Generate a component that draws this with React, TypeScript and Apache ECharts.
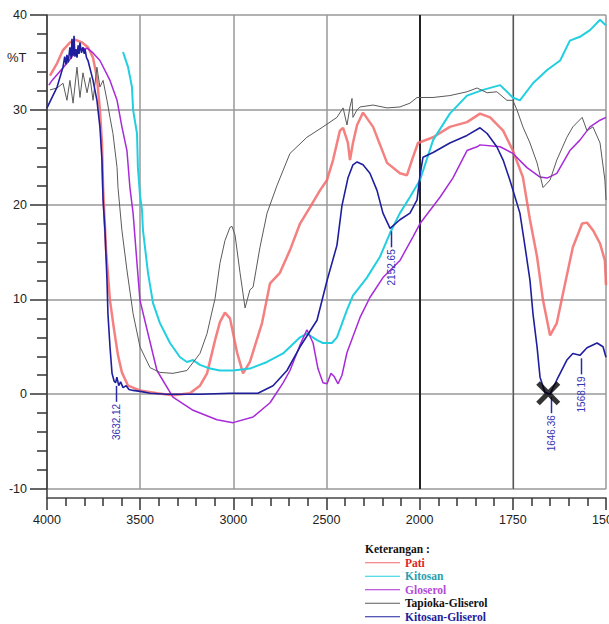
import React, { useEffect, useRef } from "react";
import * as echarts from "echarts";

// FTIR spectra, wavenumber (cm-1) vs %T
const patiWn = [3984, 3946, 3914, 3877, 3850, 3812, 3780, 3753, 3732, 3716, 3705, 3699, 3683, 3662, 3640, 3619, 3598, 3565, 3501, 3410, 3324, 3233, 3179, 3141, 3098, 3072, 3045, 3018, 2980, 2948, 2911, 2846, 2803, 2750, 2696, 2642, 2589, 2535, 2497, 2465, 2428, 2411, 2385, 2374, 2358, 2336, 2304, 2250, 2175, 2106, 2068, 2036, 2009, 1964, 1919, 1873, 1838, 1811, 1776, 1750, 1723, 1704, 1685, 1669, 1650, 1632, 1615, 1589, 1564, 1551, 1535, 1516, 1503, 1500];
const patiT = [33.6, 34.9, 36.3, 37.1, 37.4, 37.1, 36.6, 35.5, 33.4, 30.0, 26.5, 21.8, 15.2, 9.9, 6.8, 4.1, 2.3, 0.9, 0.4, 0.1, -0.1, 0.1, 0.9, 2.2, 5.7, 7.6, 8.6, 8.0, 4.4, 2.2, 3.4, 7.5, 11.7, 12.8, 15.2, 18.0, 19.7, 21.5, 22.6, 24.7, 27.8, 28.1, 26.5, 24.7, 26.5, 28.4, 29.7, 28.2, 24.4, 23.3, 23.1, 25.0, 26.5, 27.1, 28.2, 28.7, 29.6, 29.2, 27.8, 25.7, 22.9, 18.4, 14.5, 9.9, 6.2, 7.5, 10.7, 15.5, 18.0, 18.1, 17.3, 15.9, 14.1, 11.5];

const kitosanWn = [3592, 3565, 3544, 3538, 3517, 3512, 3501, 3490, 3485, 3458, 3431, 3394, 3340, 3286, 3249, 3216, 3179, 3125, 3072, 3002, 2911, 2819, 2733, 2642, 2605, 2551, 2519, 2471, 2444, 2390, 2358, 2283, 2213, 2159, 2106, 2052, 1999, 1964, 1919, 1873, 1830, 1784, 1750, 1731, 1696, 1658, 1623, 1597, 1570, 1543, 1516, 1500];
const kitosanT = [36.1, 34.5, 32.4, 30.0, 27.5, 23.9, 21.0, 19.4, 17.3, 12.8, 9.6, 7.5, 5.4, 3.9, 3.4, 3.6, 3.1, 2.7, 2.5, 2.5, 2.7, 3.4, 4.3, 6.0, 6.4, 5.7, 5.4, 5.4, 6.0, 8.9, 10.4, 12.3, 14.5, 17.0, 19.1, 20.8, 22.6, 26.8, 29.6, 31.5, 32.1, 32.6, 31.3, 31.0, 32.8, 34.2, 35.2, 37.3, 37.7, 38.4, 39.5, 38.9];

const gliserolWn = [3990, 3973, 3893, 3839, 3785, 3753, 3716, 3662, 3624, 3598, 3571, 3555, 3538, 3517, 3501, 3463, 3410, 3324, 3216, 3088, 3002, 2894, 2803, 2733, 2696, 2642, 2605, 2572, 2546, 2519, 2497, 2476, 2460, 2438, 2417, 2390, 2320, 2267, 2197, 2106, 2036, 1999, 1945, 1911, 1873, 1846, 1838, 1784, 1750, 1712, 1677, 1658, 1632, 1597, 1570, 1543, 1516, 1500];
const gliserolT = [32.6, 33.1, 34.9, 36.3, 36.5, 36.0, 35.2, 33.1, 31.0, 28.2, 25.7, 21.8, 19.1, 13.8, 9.9, 6.8, 2.5, -0.3, -1.7, -2.7, -3.0, -2.4, -0.9, 1.2, 2.5, 5.2, 6.8, 5.4, 2.7, 1.2, 1.1, 2.2, 1.9, 1.1, 2.0, 4.4, 8.1, 10.2, 12.3, 14.1, 16.6, 18.0, 20.8, 22.8, 25.7, 26.1, 26.3, 26.1, 25.4, 23.9, 22.9, 22.8, 23.3, 25.7, 26.8, 28.2, 28.9, 29.2];

const tapiokaWn = [3984, 3946, 3914, 3893, 3877, 3860, 3839, 3823, 3807, 3785, 3769, 3753, 3732, 3716, 3699, 3678, 3662, 3646, 3624, 3619, 3598, 3571, 3538, 3501, 3447, 3394, 3324, 3249, 3179, 3141, 3125, 3098, 3072, 3045, 3018, 3007, 2991, 2964, 2937, 2911, 2894, 2857, 2819, 2766, 2696, 2605, 2519, 2444, 2411, 2390, 2374, 2363, 2358, 2336, 2320, 2250, 2175, 2106, 2052, 2014, 1991, 1964, 1919, 1873, 1846, 1819, 1793, 1766, 1750, 1739, 1723, 1704, 1685, 1669, 1650, 1632, 1605, 1589, 1564, 1551, 1535, 1516, 1503, 1500];
const tapiokaT = [32.1, 32.3, 32.8, 31.0, 33.1, 30.7, 34.5, 31.3, 33.9, 31.8, 33.4, 31.0, 34.5, 32.4, 33.1, 31.0, 29.2, 27.5, 23.9, 21.8, 17.3, 13.1, 8.5, 5.0, 2.8, 2.3, 2.2, 2.5, 4.3, 6.4, 7.8, 10.1, 13.8, 16.2, 17.6, 17.7, 16.8, 12.8, 9.1, 11.0, 11.3, 15.5, 19.1, 22.0, 25.4, 27.1, 28.2, 29.2, 30.2, 28.4, 30.3, 31.2, 29.2, 30.0, 30.3, 30.5, 30.2, 30.3, 30.7, 31.3, 31.3, 31.3, 31.5, 31.9, 32.3, 31.8, 31.9, 31.0, 31.0, 30.0, 28.2, 26.5, 24.4, 21.8, 22.6, 24.7, 27.1, 28.2, 29.2, 27.8, 28.2, 26.5, 22.6, 20.5];

const kitosanGliserolWn = [4000, 3946, 3914, 3905, 3898, 3893, 3886, 3877, 3870, 3866, 3860, 3855, 3850, 3845, 3839, 3833, 3828, 3823, 3815, 3807, 3800, 3796, 3788, 3780, 3753, 3732, 3716, 3705, 3699, 3689, 3678, 3673, 3662, 3651, 3640, 3632, 3625, 3615, 3605, 3592, 3575, 3560, 3538, 3500, 3447, 3356, 3179, 3018, 2868, 2787, 2712, 2642, 2551, 2497, 2444, 2417, 2385, 2358, 2336, 2304, 2267, 2229, 2197, 2159, 2106, 2052, 2014, 1999, 1991, 1964, 1919, 1873, 1838, 1819, 1793, 1776, 1758, 1731, 1717, 1704, 1696, 1685, 1677, 1664, 1650, 1632, 1605, 1589, 1570, 1551, 1524, 1508, 1500];
const kitosanGliserolT = [30.2, 32.4, 34.5, 35.6, 34.8, 35.8, 35.0, 36.6, 35.4, 37.5, 35.7, 37.8, 35.6, 36.4, 35.5, 36.8, 35.9, 37.1, 36.0, 36.6, 35.9, 36.4, 35.5, 35.2, 33.1, 31.0, 28.2, 24.7, 20.5, 17.3, 12.0, 8.5, 5.0, 2.2, 1.4, 1.2, 1.8, 0.9, 1.3, 0.7, 0.9, 0.5, 0.4, 0.3, 0.1, 0.0, 0.0, 0.1, 0.1, 0.9, 2.5, 5.0, 7.8, 12.0, 15.7, 19.9, 22.8, 24.2, 24.5, 24.2, 23.3, 21.5, 19.1, 17.5, 18.4, 19.1, 20.5, 23.1, 25.0, 25.5, 26.5, 27.3, 28.1, 27.5, 26.1, 24.7, 22.6, 19.1, 15.5, 12.0, 8.5, 5.0, 1.8, 0.2, 0.0, 1.5, 3.6, 4.3, 4.1, 4.9, 5.4, 5.0, 3.9];

const seriesNames = ["Pati", "Kitosan", "Gloserol", "Tapioka-Gliserol", "Kitosan-Gliserol"];
const lineColors = ["#f26a6a", "#22cfe0", "#a82ad8", "#5a5a5a", "#1f1f9e"];
const legendTextColors = ["#e01f26", "#2a9eb0", "#b24ad8", "#111111", "#1c1c9c"];

// Peak picks on the Kitosan-Gliserol spectrum
const peakWn = [3632.12, 2152.65, 1646.36, 1568.19];
const peakT = [1.2, 17.5, 0.0, 4.1];

// Cross mark position
const crossWn = [1655];
const crossT = [0.1];

const xTickWn = [4000, 3500, 3000, 2500, 2000, 1750, 1500];

// Axis is linear in "position": 1x scale above 2000 cm-1, 2x scale below.
const toPos = (wn: number) => (wn >= 2000 ? 4000 - wn : 2000 + (2000 - wn) * 2);
const fromPos = (p: number) => (p <= 2000 ? 4000 - p : 2000 - (p - 2000) / 2);

const pairs = (wn: number[], t: number[]) => wn.map((w, i) => [toPos(w), t[i]]);

const sans = '"Liberation Sans", Arial, sans-serif';
const serif = '"Liberation Serif", "Times New Roman", serif';

export default function App() {
  const ref = useRef<HTMLDivElement>(null);

  useEffect(() => {
    if (!ref.current) return;
    const chart = echarts.init(ref.current, undefined, { renderer: "svg" });

    const spectra = [
      { wn: patiWn, t: patiT, width: 2.5, opacity: 0.85 },
      { wn: kitosanWn, t: kitosanT, width: 2, opacity: 1 },
      { wn: gliserolWn, t: gliserolT, width: 1.5, opacity: 1 },
      { wn: tapiokaWn, t: tapiokaT, width: 1, opacity: 1 },
      { wn: kitosanGliserolWn, t: kitosanGliserolT, width: 1.6, opacity: 1 },
    ];

    const lineSeries: any[] = spectra.map((s, i) => ({
      name: seriesNames[i],
      type: "line",
      data: pairs(s.wn, s.t),
      symbol: "none",
      smooth: false,
      lineStyle: { color: lineColors[i], width: s.width, opacity: s.opacity },
      itemStyle: { color: lineColors[i] },
      z: 3 + i,
    }));

    // darker reference lines at the scale break and at 1750
    lineSeries[0].markLine = {
      silent: true,
      symbol: "none",
      label: { show: false },
      data: [
        { xAxis: toPos(2000), lineStyle: { color: "#222", width: 2, type: "solid" } },
        { xAxis: toPos(1750), lineStyle: { color: "#555", width: 1.2, type: "solid" } },
      ],
      z: 1,
    };

    const peakSeries = {
      type: "custom",
      name: "peaks",
      data: peakWn.map((w, i) => [toPos(w), peakT[i]]),
      z: 10,
      silent: true,
      clip: false,
      renderItem: (params: any, api: any) => {
        const pt = api.coord([api.value(0), api.value(1)]);
        const x = Math.round(pt[0]) + 0.5;
        const y0 = pt[1] + 3;
        const y1 = pt[1] + 19;
        return {
          type: "group",
          children: [
            {
              type: "line",
              shape: { x1: x, y1: y0, x2: x, y2: y1 },
              style: { stroke: "#2a2aa8", lineWidth: 1.5 },
            },
            {
              type: "text",
              x: x,
              y: y1 + 2,
              rotation: Math.PI / 2,
              style: {
                text: peakWn[params.dataIndex].toFixed(2),
                fill: "#3434b4",
                font: `10px ${sans}`,
                align: "right",
                verticalAlign: "middle",
              },
            },
          ],
        };
      },
    };

    const crossSeries = {
      type: "scatter",
      name: "cross",
      data: crossWn.map((w, i) => [toPos(w), crossT[i]]),
      symbol: "path://M3,0L10,7L17,0L20,3L13,10L20,17L17,20L10,13L3,20L0,17L7,10L0,3Z",
      symbolSize: 24,
      itemStyle: { color: "#000" },
      silent: true,
      z: 20,
    };

    chart.setOption({
      animation: false,
      backgroundColor: "#ffffff",
      grid: { left: 47, right: 3, top: 15, bottom: 135, containLabel: false, outerBoundsMode: "none" },
      xAxis: {
        type: "value",
        min: 0,
        max: 3000,
        interval: 500,
        offset: 9,
        axisLine: { show: true, onZero: false, lineStyle: { color: "#444", width: 1.5 } },
        axisTick: { show: true, length: 12, lineStyle: { color: "#333", width: 1.5 } },
        minorTick: { show: true, splitNumber: 5, length: 8, lineStyle: { color: "#333", width: 1.5 } },
        axisLabel: {
          margin: 15,
          color: "#222",
          fontSize: 12.5,
          fontFamily: sans,
          hideOverlap: false,
          formatter: (v: number) => {
            const w = Math.round(fromPos(v));
            return xTickWn.includes(w) ? String(w) : "";
          },
        },
        splitLine: { show: true, lineStyle: { color: "#999", width: 1.5 } },
      },
      yAxis: {
        type: "value",
        min: -10,
        max: 40,
        interval: 10,
        axisLine: { show: true, onZero: false, lineStyle: { color: "#333", width: 1.5 } },
        axisTick: { show: true, length: 17, lineStyle: { color: "#333", width: 1.5 } },
        minorTick: { show: true, splitNumber: 5, length: 10, lineStyle: { color: "#333", width: 1.5 } },
        axisLabel: { margin: 20, color: "#222", fontSize: 12.5, fontFamily: sans },
        splitLine: { show: true, lineStyle: { color: "#999", width: 1.5 } },
      },
      legend: {
        orient: "vertical",
        left: 365,
        top: 556,
        icon: "rect",
        itemWidth: 35,
        itemHeight: 1,
        itemGap: 0,
        padding: 0,
        textStyle: { fontFamily: serif, fontWeight: "bold", fontSize: 11.5, lineHeight: 13.5 },
        data: seriesNames.map((n, i) => ({ name: n, textStyle: { color: legendTextColors[i] } })),
        selectedMode: false,
      },
      graphic: [
        {
          type: "text",
          left: 7,
          top: 51,
          style: { text: "%T", fill: "#222", font: `13px ${sans}` },
        },
        {
          type: "line",
          shape: { x1: 47, y1: 489, x2: 47, y2: 498 },
          style: { stroke: "#333", lineWidth: 1.5 },
        },
        {
          type: "text",
          left: 365,
          top: 543,
          style: { text: "Keterangan :", fill: "#111", font: `bold 11.5px ${serif}` },
        },
      ],
      series: [...lineSeries, peakSeries, crossSeries],
    });

    return () => chart.dispose();
  }, []);

  return (
    <div
      ref={ref}
      style={{ position: "absolute", left: 0, top: 0, width: 609, height: 624, background: "#fff" }}
    />
  );
}
